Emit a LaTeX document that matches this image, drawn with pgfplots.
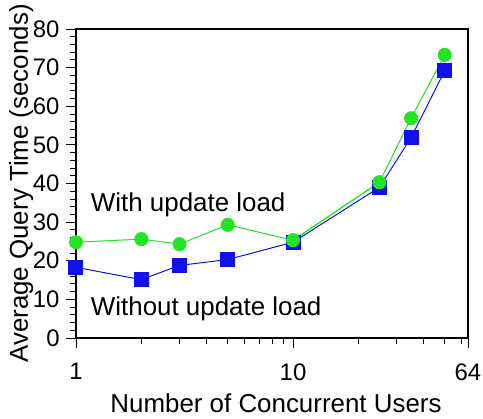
\documentclass[border=0pt]{standalone}
\usepackage{pgfplots}
\pgfplotsset{compat=1.18}
\usepackage{fontspec}
\setmainfont{Liberation Sans}
\definecolor{lgreen}{RGB}{34,228,34}
\definecolor{lblue}{RGB}{16,16,238}
\begin{document}
\begin{tikzpicture}
\begin{axis}[
  scale only axis,
  width=392bp, height=309bp,
  xmode=log,
  xmin=1, xmax=64,
  ymin=0, ymax=80,
  xtick={1,10,64},
  xticklabels={1,10,64},
  minor xtick={2,3,4,5,6,7,8,9,20,30,40,50,60},
  ytick={0,10,...,80},
  minor ytick={2,4,6,8,12,14,16,18,22,24,26,28,32,34,36,38,42,44,46,48,52,54,56,58,62,64,66,68,72,74,76,78},
  tick align=outside,
  tick pos=left,
  major tick length=10bp,
  minor tick length=6bp,
  every tick/.style={black, line width=0.9bp},
  axis line style={line width=1.2bp},
  /pgf/number format/assume math mode=true,
  ticklabel style={font=\fontsize{24}{28}\selectfont},
  xticklabel style={yshift=-12bp},
  yticklabel style={xshift=-3bp},
  xlabel={Number of Concurrent Users},
  ylabel={Average Query Time (seconds)},
  label style={font=\fontsize{26}{30}\selectfont},
  xlabel style={at={([xshift=4bp,yshift=-74bp]axis description cs:0.5,0)}, anchor=base},
  ylabel style={at={([xshift=-48bp]axis description cs:0,0.5)}, anchor=base},
  clip=false,
]
\addplot[lgreen, line width=1bp, mark=*, mark size=6.5bp, mark options={fill=lgreen, draw=lgreen}] coordinates {
  (1,24.8) (2,25.6) (3,24.3) (5,29.3) (10,25.3) (25,40.3) (35,56.9) (50,73.3)
};
\addplot[lblue, line width=1bp, mark=square*, mark size=7bp, mark options={fill=lblue, draw=lblue}] coordinates {
  (1,18.3) (2,15.1) (3,18.8) (5,20.3) (10,24.8) (25,39.0) (35,51.9) (50,69.2)
};
\addplot[lgreen, line width=1bp, mark=*, mark size=6.5bp, mark options={fill=lgreen, draw=lgreen}] coordinates {
  (10,25.3) (25,40.3)
};
\node[anchor=base west, font=\fontsize{26}{30}\selectfont, inner sep=0pt] at (axis cs:1.17,32.8) {With update load};
\node[anchor=base west, font=\fontsize{26}{30}\selectfont, inner sep=0pt] at (axis cs:1.17,5.8) {Without update load};
\end{axis}
\pgfresetboundingbox
\useasboundingbox (-76bp,-81bp) rectangle (407bp,338bp);
\end{tikzpicture}
\end{document}
